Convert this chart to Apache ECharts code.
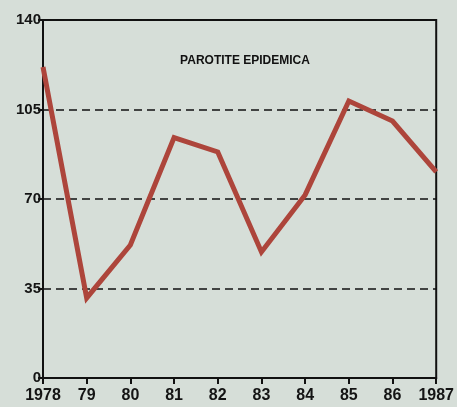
<!DOCTYPE html>
<html>
<head>
<meta charset="utf-8">
<script src="https://cdn.jsdelivr.net/npm/echarts@6/dist/echarts.min.js"></script>
<style>
  html, body { margin: 0; padding: 0; background: #d6ded8; }
  #chart { width: 457px; height: 407px; }
</style>
</head>
<body>
<div id="chart"></div>
<script>
const years = ['1978', '79', '80', '81', '82', '83', '84', '85', '86', '1987']
const cases = [121.6, 31.3, 52, 94, 88.4, 49.3, 71.6, 108.3, 100.5, 80.6]
const yTicks = { min: 0, max: 140, interval: 35 }
const chartTitle = 'PAROTITE EPIDEMICA'

const chart = echarts.init(document.getElementById('chart'))

const labelFont = {
  color: '#141414',
  fontFamily: 'Liberation Sans, Arial, sans-serif',
  fontWeight: 'bold',
  fontSize: 15
}

chart.setOption({
  backgroundColor: '#d6ded8',
  animation: false,
  title: {
    text: chartTitle,
    left: 245,
    top: 55,
    padding: 0,
    textAlign: 'center',
    textStyle: {
      color: '#111',
      fontFamily: 'Liberation Sans, Arial, sans-serif',
      fontWeight: 'bold',
      fontSize: 12
    }
  },
  grid: {
    left: 43,
    top: 20,
    width: 394,
    height: 358,
    show: true,
    borderColor: '#111',
    borderWidth: 2,
    backgroundColor: 'transparent'
  },
  xAxis: {
    type: 'category',
    data: years,
    boundaryGap: false,
    axisLine: { lineStyle: { color: '#111', width: 2 } },
    axisTick: { show: true, length: 6, lineStyle: { color: '#111', width: 2 } },
    axisLabel: { ...labelFont, fontSize: 16, margin: 10, interval: 0 },
    splitLine: { show: false }
  },
  yAxis: {
    type: 'value',
    min: yTicks.min,
    max: yTicks.max,
    interval: yTicks.interval,
    axisLine: { show: true, lineStyle: { color: '#111', width: 2 } },
    axisTick: { show: true, length: 5, lineStyle: { color: '#111', width: 2 } },
    axisLabel: { ...labelFont, margin: 2 },
    splitLine: { show: true, lineStyle: { color: '#111', width: 1.5, type: [8, 5] } }
  },
  series: [{
    type: 'line',
    data: cases,
    symbol: 'none',
    lineStyle: { color: '#ad453b', width: 5, join: 'miter' },
    z: 3
  }]
})
</script>
</body>
</html>
